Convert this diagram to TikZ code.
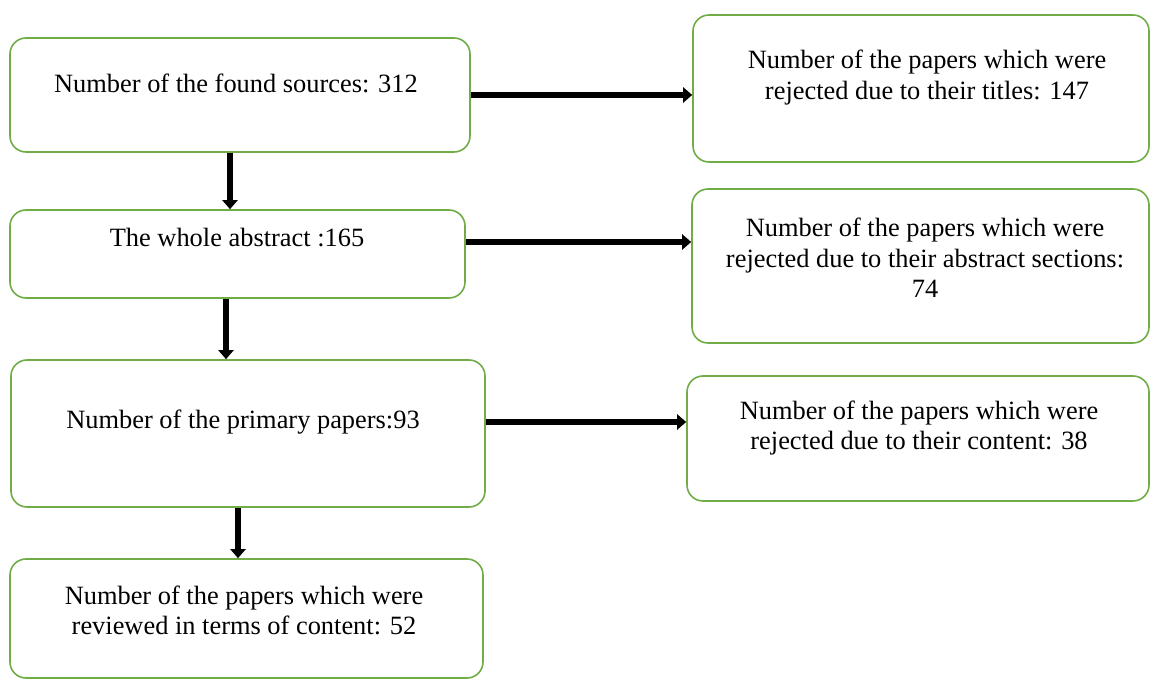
\documentclass[tikz,border=0pt]{standalone}
\usepackage{fontspec}
\setmainfont{Liberation Serif}
\usetikzlibrary{arrows.meta,calc}
\definecolor{boxgreen}{RGB}{112,173,71}
\begin{document}
\begin{tikzpicture}[x=1pt,y=1pt,
  box/.style={draw=boxgreen,line width=1.6pt,rounded corners=16pt,fill=white,inner sep=0pt},
  txt/.style={align=center,font=\fontsize{26.4}{30.4}\selectfont,inner sep=0pt},
  flow/.style={line width=6.5pt,-{Triangle[length=9pt,width=15pt]}}]
\useasboundingbox (0,0) rectangle (1151,680);
% boxes (x centre, 680 - y centre)
\node[box,minimum width=460pt,minimum height=114pt] (B1) at (240,585) {};
\node[box,minimum width=456pt,minimum height=147pt] (R1) at (921,591.5) {};
\node[box,minimum width=455pt,minimum height=88pt] (B2) at (237.5,426) {};
\node[box,minimum width=457pt,minimum height=154pt] (R2) at (920.5,414) {};
\node[box,minimum width=474pt,minimum height=147pt] (B3) at (248,246.5) {};
\node[box,minimum width=462pt,minimum height=125pt] (R3) at (918,241.5) {};
\node[box,minimum width=473pt,minimum height=119pt] (B4) at (246.5,61.5) {};
% texts
\node[txt] (T1) at (236,597) {Number of the found sources: 312};
\node[txt] (U1) at (927,602.5) {Number of the papers which were\\rejected due to their titles: 147};
\node[txt] (T2) at (237,442) {The whole abstract :165};
\node[txt] (U2) at (925,422) {Number of the papers which were\\rejected due to their abstract sections:\\74};
\node[txt] (T3) at (243,258) {Number of the primary papers:93};
\node[txt] (U3) at (919,252) {Number of the papers which were\\rejected due to their content: 38};
\node[txt] (T4) at (244,69.5) {Number of the papers which were\\reviewed in terms of content: 52};
% connectors
\coordinate (h1) at (B1.east);
\coordinate (h2) at ([yshift=12pt]B2.east);
\coordinate (h3) at ([yshift=11.5pt]B3.east);
\draw[flow] (h1) -- (h1 -| R1.west);
\draw[flow] (h2) -- (h2 -| R2.west);
\draw[flow] (h3) -- (h3 -| R3.west);
\coordinate (v1) at ([xshift=-10pt]B1.south);
\coordinate (v2) at ([xshift=-11.5pt]B2.south);
\coordinate (v3) at ([xshift=-10pt]B3.south);
\draw[flow] (v1) -- (v1 |- B2.north);
\draw[flow] (v2) -- (v2 |- B3.north);
\draw[flow] (v3) -- (v3 |- B4.north);
\end{tikzpicture}
\end{document}
